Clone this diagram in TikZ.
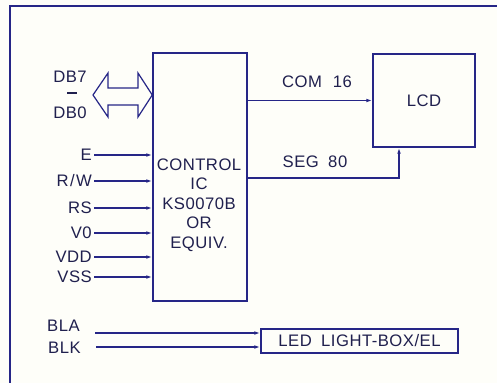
\documentclass[tikz,border=0pt]{standalone}
\usepackage{fontspec}
\setmainfont{Liberation Sans}[LetterSpace=3]
\usepackage{tikz}
\usetikzlibrary{arrows.meta, positioning}
\definecolor{wirecol}{RGB}{38,38,135}
\definecolor{inkcol}{RGB}{32,32,78}
\definecolor{papercol}{RGB}{254,254,249}

\begin{document}
\begin{tikzpicture}[x=0.75pt, y=-0.75pt, line join=miter, line cap=butt]
   % Styles
   \tikzset{
    blk/.style={draw=wirecol, line width=1.1pt, inner sep=0pt},
    wire/.style={draw=wirecol, line width=1pt, -{Latex[length=4.5pt,width=2.8pt]}},
    pin/.style={text=inkcol, font=\fontsize{12.5}{13}\selectfont, inner sep=1.5pt, anchor=east},
    txt/.style={text=inkcol, font=\fontsize{12.5}{13}\selectfont, inner sep=0pt}
   }
  \useasboundingbox[fill=papercol] (0,0) rectangle (497,383);
  % Frame
  \draw[wirecol, line width=1.1pt] (497,6) -- (10,6) -- (10,383);
  % Nodes
  \node[blk, minimum width=70.5pt, minimum height=186pt] (ctrl) at (200,177) {};
  \node[txt, align=center, text width=70pt, font=\fontsize{12.5}{14.6}\selectfont] (ctrltxt) at (199,205)
    {CONTROL\\IC\\KS0070B\\OR\\EQUIV.};
  \node[blk, minimum width=76.5pt, minimum height=69.75pt, text=inkcol,
        font=\fontsize{12.5}{13}\selectfont] (lcd) at (424,100.5) {LCD};
  \node[blk, minimum width=147.75pt, minimum height=18pt, text=inkcol, align=left,
        font=\fontsize{12.5}{13}\selectfont] (led) at (359.5,341)
    {LED\hspace{7pt}LIGHT-BOX/EL};
  \node[txt] (com) at (317,82) {COM\hspace{8pt}16};
  \node[txt] (seg) at (315,162) {SEG\hspace{7pt}80};
  \node[txt] (db7) at (70,77) {DB7};
  \node[txt] (dbdash) at (72,93) {\rule{7.5pt}{0.9pt}};
  \node[txt] (db0) at (70,113) {DB0};
  \foreach \nm/\lab/\yy in {e/E/155, rw/{R\kern1pt/\kern1pt W}/181, rs/RS/208, vo/V0/233, vdd/VDD/257, vss/VSS/277}
    \node[pin] (in-\nm) at (94,\yy) {\lab};
  \node[pin] (bla) at (82,326) {BLA};
  \node[pin] (blk) at (83,348) {BLK};
  \coordinate (segbend) at (399,178);
  % Data bus
  \draw[wirecol, line width=0.9pt] (93,95) -- (108,73) -- (108,88) -- (138,88) -- (138,73)
    -- (ctrl.west |- 0,95) -- (138,117) -- (138,105) -- (108,105) -- (108,117) -- cycle;
  % Edges
  \foreach \nm in {e, rw, rs, vo, vdd, vss}
    \draw[wire] (in-\nm.east) -- (in-\nm.east -| ctrl.west);
  \draw[wire] (ctrl.east |- lcd.west) -- (lcd.west);
  \draw[wire] (ctrl.east |- segbend) -- (segbend) -- (segbend |- lcd.south);
  \draw[wire] ([xshift=10pt]bla.east |- 0,333) -- (led.west |- 0,333);
  \draw[wire] ([xshift=10pt]blk.east |- 0,347) -- (led.west |- 0,347);
\end{tikzpicture}
\end{document}
